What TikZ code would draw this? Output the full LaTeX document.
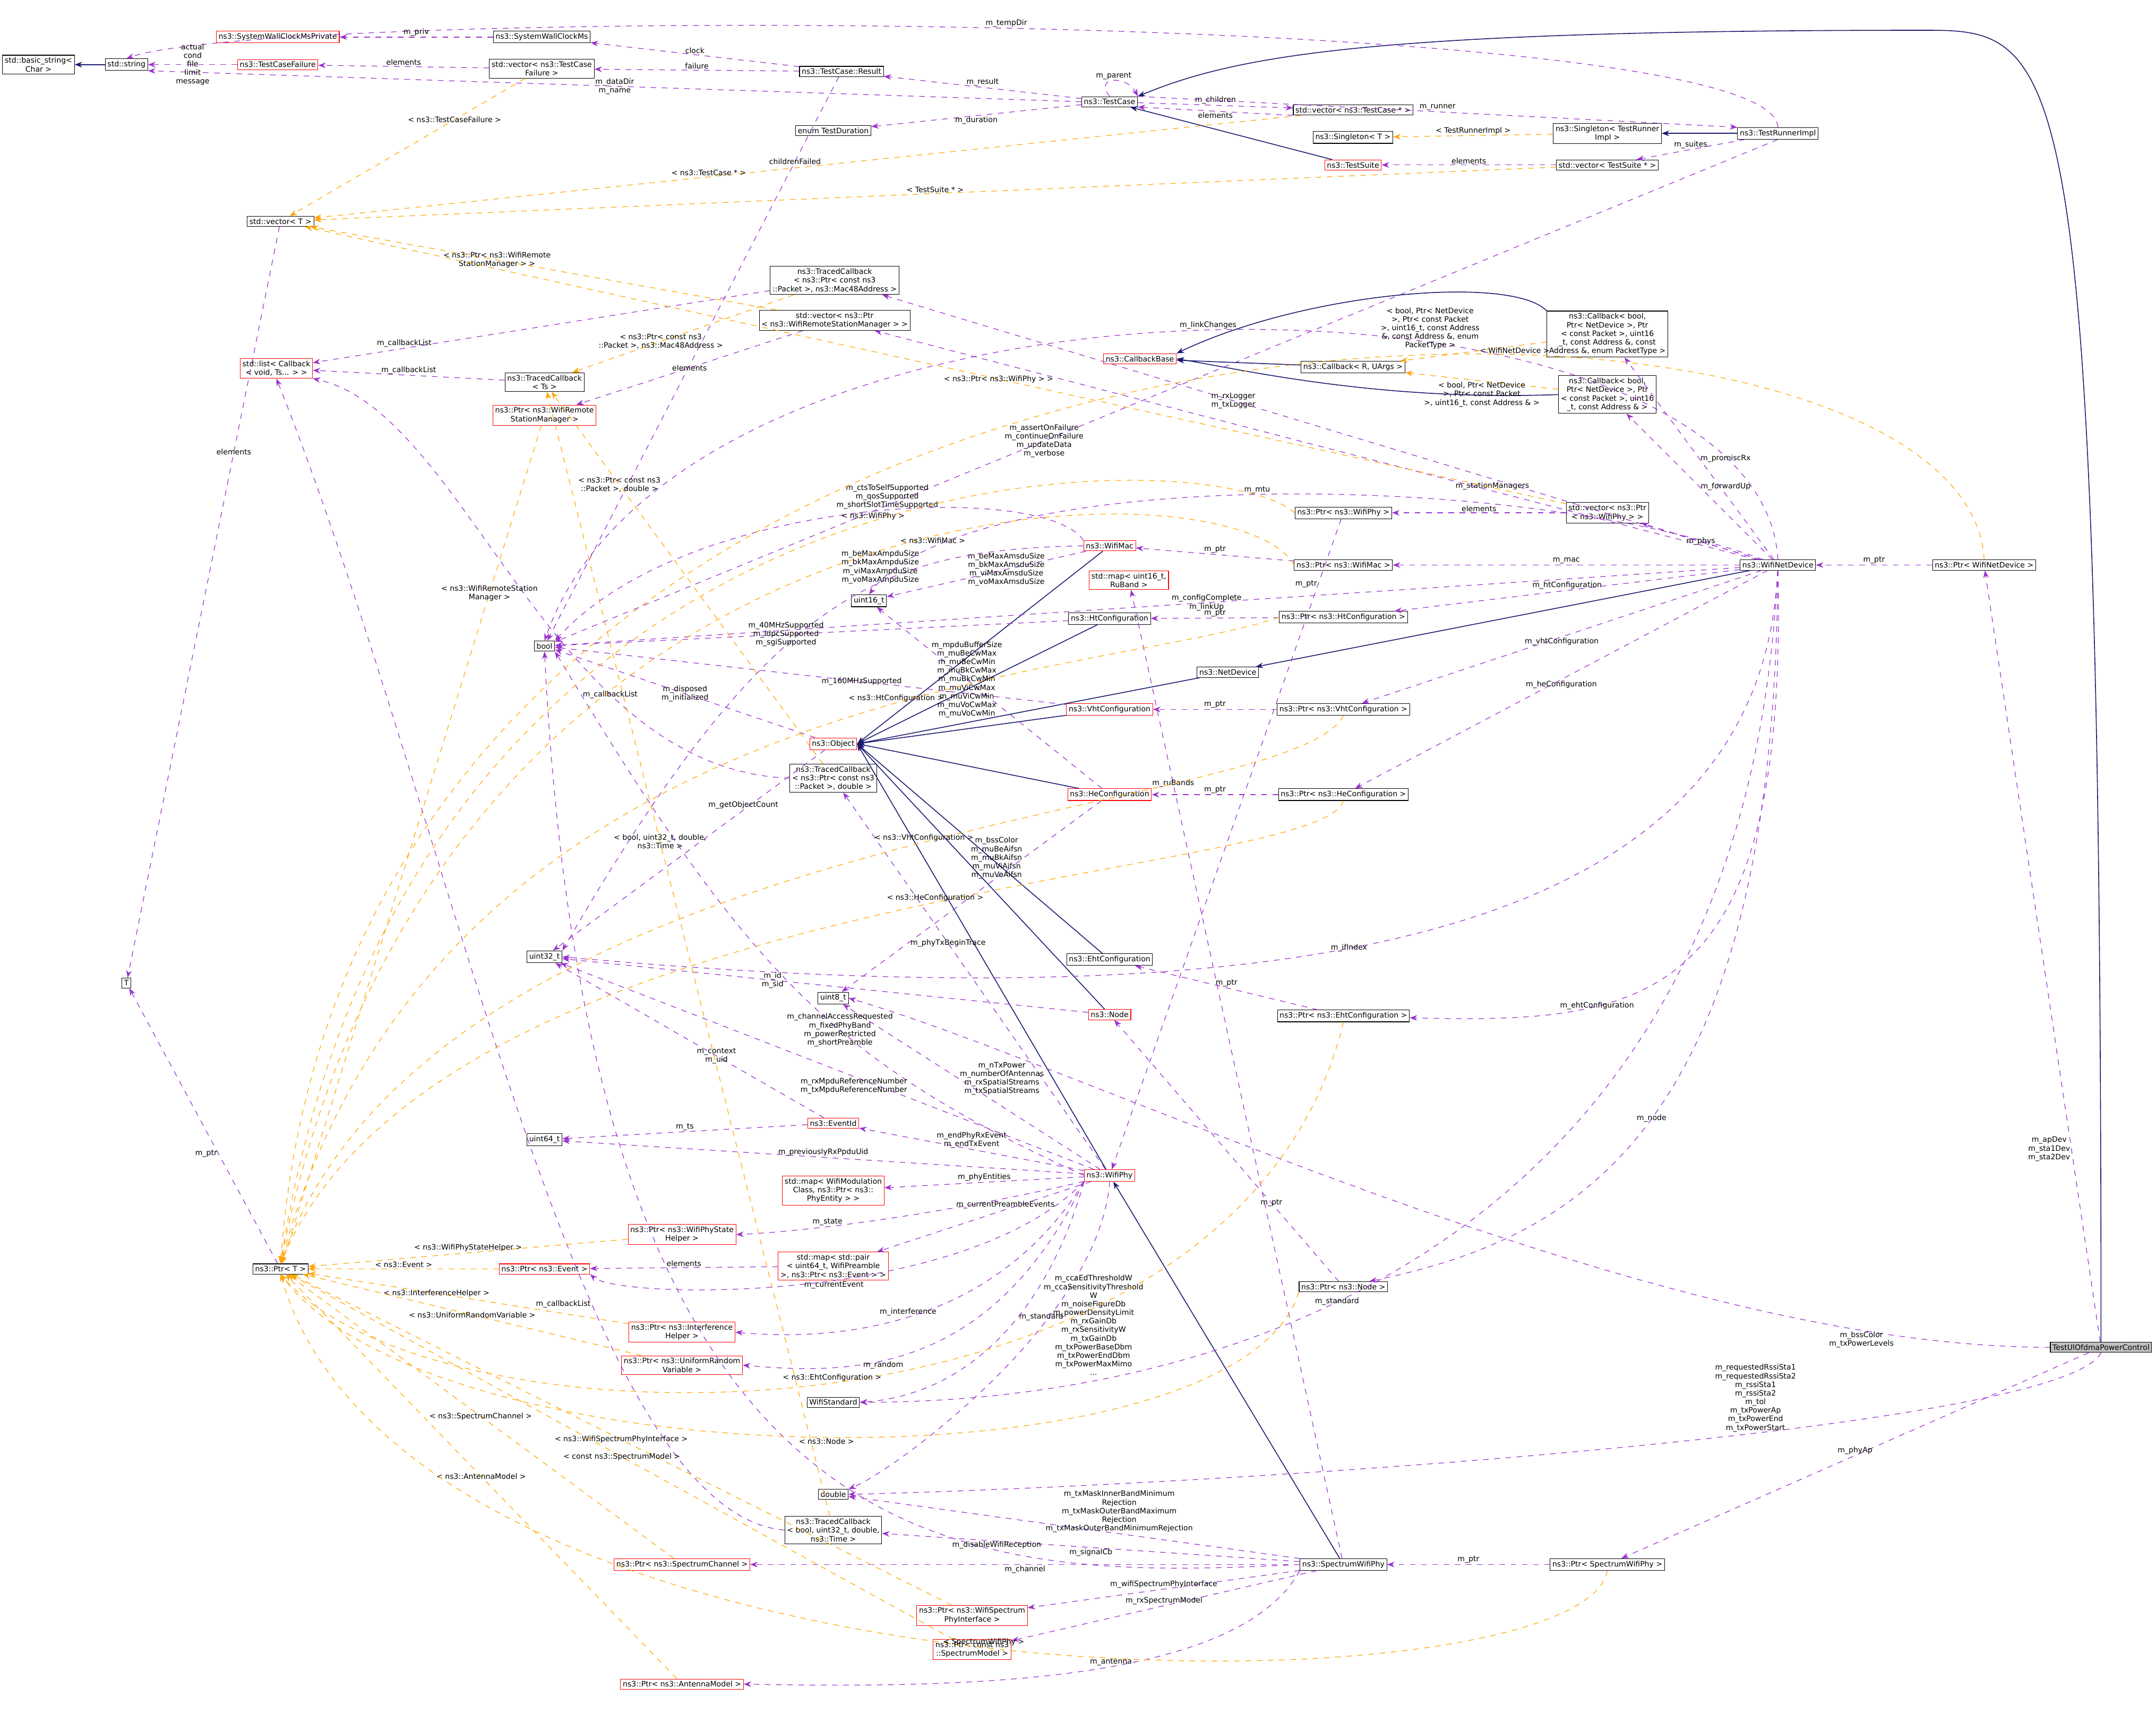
\documentclass[tikz,border=0pt]{standalone}
\usepackage{fontspec}
\setmainfont{DejaVu Sans}
\usetikzlibrary{arrows.meta}
\definecolor{inhblue}{HTML}{191970}
\definecolor{mempurple}{HTML}{9A32CD}
\definecolor{tmplorange}{HTML}{FFA500}
\tikzset{
  cls/.style={draw=black, fill=white, line width=0.3pt, inner sep=1.2pt, align=center,
    font=\fontsize{4}{4.6}\selectfont},
  redcls/.style={cls, draw=red},
  inh/.style={draw=inhblue, line width=0.45pt, -{Stealth[length=4pt,width=3pt]}},
  mem/.style={draw=mempurple, dashed, line width=0.35pt, -{Stealth[length=4pt,width=3pt]}},
  tmpl/.style={draw=tmplorange, dashed, line width=0.35pt, -{Stealth[length=4pt,width=3pt]}},
  lbl/.style={font=\fontsize{4}{4.6}\selectfont, align=center, inner sep=0.5pt, fill=none}
}
\begin{document}
\begin{tikzpicture}[x=0.0259cm, y=-0.0259cm]
\useasboundingbox (0,0) rectangle (1568,1259);
% classes
\node[cls] (basicstr) at (28,47) {std::basic\_string\textless\\ Char \textgreater};
\node[cls] (str) at (92,47) {std::string};
\node[redcls] (swcPriv) at (202,27) {ns3::SystemWallClockMsPrivate};
\node[redcls] (tcFailure) at (202,47) {ns3::TestCaseFailure};
\node[cls] (swc) at (394,27) {ns3::SystemWallClockMs};
\node[cls] (vecFail) at (394,50) {std::vector\textless{} ns3::TestCase\\ Failure \textgreater};
\node[cls] (tcResult) at (612,52) {ns3::TestCase::Result};
\node[cls] (testDur) at (606,95) {enum TestDuration};
\node[cls] (testCase) at (807,74) {ns3::TestCase};
\node[cls] (vecTC) at (984,80) {std::vector\textless{} ns3::TestCase * \textgreater};
\node[cls] (singT) at (984,100) {ns3::Singleton\textless{} T \textgreater};
\node[cls] (singTRI) at (1169,97) {ns3::Singleton\textless{} TestRunner\\ Impl \textgreater};
\node[cls] (runner) at (1293,97) {ns3::TestRunnerImpl};
\node[redcls] (suite) at (984,120) {ns3::TestSuite};
\node[cls] (vecSuite) at (1169,120) {std::vector\textless{} TestSuite * \textgreater};
\node[cls] (vecT) at (204,161) {std::vector\textless{} T \textgreater};
\node[cls] (tcbMac) at (607,204) {ns3::TracedCallback\\ \textless{} ns3::Ptr\textless{} const ns3\\ ::Packet \textgreater, ns3::Mac48Address \textgreater};
\node[cls] (vecWRSM) at (607,233) {std::vector\textless{} ns3::Ptr\\ \textless{} ns3::WifiRemoteStationManager \textgreater{} \textgreater};
\node[redcls] (listCb) at (201,268) {std::list\textless{} Callback\\ \textless{} void, Ts... \textgreater{} \textgreater};
\node[cls] (tcbTs) at (396,278) {ns3::TracedCallback\\ \textless{} Ts \textgreater};
\node[redcls] (ptrWRSM) at (396,302) {ns3::Ptr\textless{} ns3::WifiRemote\\ StationManager \textgreater};
\node[redcls] (cbBase) at (829,261) {ns3::CallbackBase};
\node[cls] (cbRU) at (984,267) {ns3::Callback\textless{} R, UArgs \textgreater};
\node[cls] (cbPromisc) at (1169,243) {ns3::Callback\textless{} bool,\\ Ptr\textless{} NetDevice \textgreater, Ptr\\ \textless{} const Packet \textgreater, uint16\\ \_t, const Address \&, const\\ Address \&, enum PacketType \textgreater};
\node[cls] (cbFwd) at (1169,287) {ns3::Callback\textless{} bool,\\ Ptr\textless{} NetDevice \textgreater, Ptr\\ \textless{} const Packet \textgreater, uint16\\ \_t, const Address \& \textgreater};
\node[cls] (bool) at (396,470) {bool};
\node[cls] (u16) at (632,437) {uint16\_t};
\node[redcls] (wifiMac) at (807,397) {ns3::WifiMac};
\node[redcls] (mapRu) at (821,422) {std::map\textless{} uint16\_t,\\ RuBand \textgreater};
\node[cls] (htConf) at (807,450) {ns3::HtConfiguration};
\node[cls] (netDev) at (893,489) {ns3::NetDevice};
\node[redcls] (vhtConf) at (807,516) {ns3::VhtConfiguration};
\node[redcls] (object) at (606,541) {ns3::Object};
\node[cls] (tcbPkt) at (606,566) {ns3::TracedCallback\\ \textless{} ns3::Ptr\textless{} const ns3\\ ::Packet \textgreater, double \textgreater};
\node[redcls] (heConf) at (807,578) {ns3::HeConfiguration};
\node[cls] (ptrPhy) at (977,373) {ns3::Ptr\textless{} ns3::WifiPhy \textgreater};
\node[cls] (vecPtrPhy) at (1169,373) {std::vector\textless{} ns3::Ptr\\ \textless{} ns3::WifiPhy \textgreater{} \textgreater};
\node[cls] (ptrMac) at (977,411) {ns3::Ptr\textless{} ns3::WifiMac \textgreater};
\node[cls] (ptrHt) at (977,449) {ns3::Ptr\textless{} ns3::HtConfiguration \textgreater};
\node[cls] (ptrVht) at (977,516) {ns3::Ptr\textless{} ns3::VhtConfiguration \textgreater};
\node[cls] (ptrHe) at (977,578) {ns3::Ptr\textless{} ns3::HeConfiguration \textgreater};
\node[cls] (wifiDev) at (1293,411) {ns3::WifiNetDevice};
\node[cls] (ptrDev) at (1443,411) {ns3::Ptr\textless{} WifiNetDevice \textgreater};
\node[cls] (u32) at (396,696) {uint32\_t};
\node[cls] (u8) at (606,726) {uint8\_t};
\node[cls] (ehtConf) at (807,698) {ns3::EhtConfiguration};
\node[redcls] (node) at (807,738) {ns3::Node};
\node[cls] (ptrEht) at (977,739) {ns3::Ptr\textless{} ns3::EhtConfiguration \textgreater};
\node[cls] (T) at (92,715) {T};
\node[cls] (u64) at (396,829) {uint64\_t};
\node[redcls] (eventId) at (606,817) {ns3::EventId};
\node[redcls] (wifiPhy) at (807,855) {ns3::WifiPhy};
\node[redcls] (mapMod) at (606,866) {std::map\textless{} WifiModulation\\ Class, ns3::Ptr\textless{} ns3::\\ PhyEntity \textgreater{} \textgreater};
\node[redcls] (ptrState) at (496,898) {ns3::Ptr\textless{} ns3::WifiPhyState\\ Helper \textgreater};
\node[cls] (ptrT) at (204,923) {ns3::Ptr\textless{} T \textgreater};
\node[redcls] (ptrEvent) at (396,923) {ns3::Ptr\textless{} ns3::Event \textgreater};
\node[redcls] (mapPair) at (606,921) {std::map\textless{} std::pair\\ \textless{} uint64\_t, WifiPreamble\\ \textgreater, ns3::Ptr\textless{} ns3::Event \textgreater{} \textgreater};
\node[redcls] (ptrIntf) at (496,969) {ns3::Ptr\textless{} ns3::Interference\\ Helper \textgreater};
\node[redcls] (ptrRand) at (496,993) {ns3::Ptr\textless{} ns3::UniformRandom\\ Variable \textgreater};
\node[cls] (ptrNode) at (977,936) {ns3::Ptr\textless{} ns3::Node \textgreater};
\node[cls, fill=black!25] (test) at (1528,980) {TestUlOfdmaPowerControl};
\node[cls] (wifiStd) at (606,1020) {WifiStandard};
\node[cls] (double) at (606,1087) {double};
\node[cls] (tcbBool) at (606,1113) {ns3::TracedCallback\\ \textless{} bool, uint32\_t, double,\\ ns3::Time \textgreater};
\node[cls] (specPhy) at (977,1138) {ns3::SpectrumWifiPhy};
\node[cls] (ptrSpecPhy) at (1169,1138) {ns3::Ptr\textless{} SpectrumWifiPhy \textgreater};
\node[redcls] (ptrChan) at (496,1138) {ns3::Ptr\textless{} ns3::SpectrumChannel \textgreater};
\node[redcls] (ptrIface) at (707,1175) {ns3::Ptr\textless{} ns3::WifiSpectrum\\ PhyInterface \textgreater};
\node[redcls] (ptrModel) at (707,1200) {ns3::Ptr\textless{} const ns3\\ ::SpectrumModel \textgreater};
\node[redcls] (ptrAnt) at (496,1225) {ns3::Ptr\textless{} ns3::AntennaModel \textgreater};
% inheritance
\draw[inh] (str) -- (basicstr);
\draw[inh] (suite) -- (testCase);
\draw[inh] (runner) -- (singTRI);
\draw[inh] (cbPromisc.north west) .. controls (1100,200) and (950,212) .. (cbBase.north east);
\draw[inh] (cbRU) -- (cbBase);
\draw[inh] (cbFwd.west) .. controls (1000,292) and (900,268) .. (cbBase.east);
\draw[inh] (wifiDev) -- (netDev);
\draw[inh] (specPhy) -- (wifiPhy);
\foreach \sub in {wifiMac,htConf,netDev,vhtConf,heConf,ehtConf,node,wifiPhy}
  \draw[inh] (\sub) -- (object.east);
\draw[inh] (test.north) .. controls (1528,30) and (1500,22) .. (1400,22) .. controls (1000,22) and (900,40) .. (testCase.north east);
% members
\draw[mem] (runner.north) .. controls (1290,5) and (200,5) .. node[lbl, pos=0.5, above] {m\_tempDir} (str.north);
\draw[mem] (testCase.west) -- node[lbl] {m\_dataDir\\ m\_name} (str.south east);
\draw[mem] (tcFailure) -- node[lbl] {actual\\ cond\\ file\\ limit\\ message} (str);
\draw[mem] (swc) -- node[lbl, above] {m\_priv} (swcPriv);
\draw[mem] (vecFail) -- node[lbl, above] {elements} (tcFailure);
\draw[mem] (tcResult) -- node[lbl, above] {clock} (swc);
\draw[mem] (tcResult) -- node[lbl, above] {failure} (vecFail);
\draw[mem] (tcResult) -- node[lbl, pos=0.15] {childrenFailed} (bool);
\draw[mem] (testCase) -- node[lbl, above] {m\_result} (tcResult);
\draw[mem] (testCase) -- node[lbl, below] {m\_duration} (testDur);
\draw[mem] (testCase.north) .. controls (795,55) and (820,55) .. node[lbl, above] {m\_parent} (testCase.north east);
\draw[mem] (testCase) -- node[lbl, above] {m\_children} (vecTC);
\draw[mem] (vecTC.south west) -- node[lbl, below] {elements} (testCase.south east);
\draw[mem] (testCase.north east) -- node[lbl, above] {m\_runner} (runner.north west);
\draw[mem] (runner) -- node[lbl, above] {m\_suites} (vecSuite);
\draw[mem] (vecSuite) -- node[lbl, above] {elements} (suite);
\draw[mem] (vecT) -- node[lbl, pos=0.3] {elements} (T);
\draw[mem] (tcbTs) -- node[lbl, above] {m\_callbackList} (listCb);
\draw[mem] (tcbMac) -- node[lbl, pos=0.8, above] {m\_callbackList} (listCb);
\draw[mem] (tcbPkt.west) .. controls (400,560) and (340,300) .. node[lbl, pos=0.3] {m\_callbackList} (listCb.south east);
\draw[mem] (tcbBool.west) .. controls (420,1100) and (330,600) .. node[lbl, pos=0.35, left] {m\_callbackList} (listCb.south);
\draw[mem] (vecWRSM) -- node[lbl] {elements} (ptrWRSM);
\draw[mem] (wifiDev) -- node[lbl, pos=0.3, above] {m\_stationManagers} (vecWRSM);
\draw[mem] (wifiDev) -- node[lbl, pos=0.6] {m\_rxLogger\\ m\_txLogger} (tcbMac);
\draw[mem] (wifiDev) -- node[lbl, right] {m\_promiscRx} (cbPromisc);
\draw[mem] (wifiDev) -- node[lbl, right] {m\_forwardUp} (cbFwd);
\draw[mem] (wifiDev.north) .. controls (1280,180) and (500,170) .. node[lbl, pos=0.5, above] {m\_linkChanges} (bool.north);
\draw[mem] (runner.south) -- node[lbl, pos=0.6] {m\_assertOnFailure\\ m\_continueOnFailure\\ m\_updateData\\ m\_verbose} (bool);
\draw[mem] (wifiDev) .. controls (1100,340) and (700,340) .. node[lbl, pos=0.5, above] {m\_mtu} (u16.north);
\draw[mem] (wifiDev) -- node[lbl, pos=0.45] {m\_configComplete\\ m\_linkUp} (bool);
\draw[mem] (wifiMac.north west) .. controls (760,350) and (500,360) .. node[lbl, pos=0.45, above] {m\_ctsToSelfSupported\\ m\_qosSupported\\ m\_shortSlotTimeSupported} (bool.north east);
\draw[mem] (wifiMac) -- node[lbl, pos=0.4] {m\_beMaxAmsduSize\\ m\_bkMaxAmsduSize\\ m\_viMaxAmsduSize\\ m\_voMaxAmsduSize} (u16);
\draw[mem] (wifiMac.west) .. controls (640,400) and (560,430) .. node[lbl, pos=0.3, left] {m\_beMaxAmpduSize\\ m\_bkMaxAmpduSize\\ m\_viMaxAmpduSize\\ m\_voMaxAmpduSize} (u32.north east);
\draw[mem] (htConf) -- node[lbl, pos=0.55] {m\_40MHzSupported\\ m\_ldpcSupported\\ m\_sgiSupported} (bool);
\draw[mem] (vhtConf) -- node[lbl, pos=0.4] {m\_160MHzSupported} (bool);
\draw[mem] (heConf) -- node[lbl, pos=0.6] {m\_mpduBufferSize\\ m\_muBeCwMax\\ m\_muBeCwMin\\ m\_muBkCwMax\\ m\_muBkCwMin\\ m\_muViCwMax\\ m\_muViCwMin\\ m\_muVoCwMax\\ m\_muVoCwMin} (u16);
\draw[mem] (heConf) -- node[lbl, pos=0.3, left] {m\_bssColor\\ m\_muBeAifsn\\ m\_muBkAifsn\\ m\_muViAifsn\\ m\_muVoAifsn} (u8);
\draw[mem] (object) -- node[lbl, pos=0.5] {m\_disposed\\ m\_initialized} (bool);
\draw[mem] (object) -- node[lbl, pos=0.3, above] {m\_getObjectCount} (u32);
\draw[mem] (vecPtrPhy) -- node[lbl, above] {elements} (ptrPhy);
\draw[mem] (ptrPhy) -- node[lbl, pos=0.1, left] {m\_ptr} (wifiPhy);
\draw[mem] (ptrMac) -- node[lbl, above] {m\_ptr} (wifiMac);
\draw[mem] (ptrHt) -- node[lbl, above] {m\_ptr} (htConf);
\draw[mem] (ptrVht) -- node[lbl, above] {m\_ptr} (vhtConf);
\draw[mem] (ptrHe) -- node[lbl, above] {m\_ptr} (heConf);
\draw[mem] (ptrEht) -- node[lbl, above] {m\_ptr} (ehtConf);
\draw[mem] (ptrNode) -- node[lbl, pos=0.3] {m\_ptr} (node);
\draw[mem] (wifiDev) -- node[lbl] {m\_phys} (vecPtrPhy);
\draw[mem] (wifiDev) -- node[lbl, above] {m\_mac} (ptrMac);
\draw[mem] (wifiDev) -- node[lbl, above] {m\_htConfiguration} (ptrHt);
\draw[mem] (wifiDev) -- node[lbl, below] {m\_vhtConfiguration} (ptrVht);
\draw[mem] (wifiDev) -- node[lbl, below] {m\_heConfiguration} (ptrHe);
\draw[mem] (wifiDev) .. controls (1300,730) and (1200,745) .. node[lbl, pos=0.7] {m\_ehtConfiguration} (ptrEht);
\draw[mem] (wifiDev) .. controls (1290,820) and (1150,900) .. node[lbl, pos=0.5] {m\_node} (ptrNode);
\draw[mem] (wifiDev) .. controls (1280,700) and (900,740) .. node[lbl, pos=0.55] {m\_ifIndex} (u32.east);
\draw[mem] (wifiDev) .. controls (1270,900) and (900,1020) .. node[lbl, pos=0.6] {m\_standard} (wifiStd.east);
\draw[mem] (ptrDev) -- node[lbl, above] {m\_ptr} (wifiDev);
\draw[mem] (node) -- node[lbl, pos=0.6] {m\_id\\ m\_sid} (u32);
\draw[mem] (specPhy) -- node[lbl, pos=0.8] {m\_ruBands} (mapRu);
\draw[mem] (wifiPhy) -- node[lbl, pos=0.6] {m\_phyTxBeginTrace} (tcbPkt);
\draw[mem] (wifiPhy) -- node[lbl, pos=0.55, right] {m\_nTxPower\\ m\_numberOfAntennas\\ m\_rxSpatialStreams\\ m\_txSpatialStreams} (u8);
\draw[mem] (wifiPhy.west) .. controls (600,770) and (540,700) .. node[lbl, pos=0.4] {m\_channelAccessRequested\\ m\_fixedPhyBand\\ m\_powerRestricted\\ m\_shortPreamble} (bool.south east);
\draw[mem] (wifiPhy) -- node[lbl, pos=0.45, below] {m\_rxMpduReferenceNumber\\ m\_txMpduReferenceNumber} (u32);
\draw[mem] (eventId) -- node[lbl, pos=0.4] {m\_context\\ m\_uid} (u32);
\draw[mem] (eventId) -- node[lbl, above] {m\_ts} (u64);
\draw[mem] (wifiPhy) -- node[lbl, above] {m\_endPhyRxEvent\\ m\_endTxEvent} (eventId);
\draw[mem] (wifiPhy) -- node[lbl, above] {m\_previouslyRxPpduUid} (u64);
\draw[mem] (wifiPhy) -- node[lbl, above] {m\_phyEntities} (mapMod);
\draw[mem] (wifiPhy) .. controls (700,880) and (600,895) .. node[lbl, pos=0.7, above] {m\_state} (ptrState.east);
\draw[mem] (wifiPhy) -- node[lbl, pos=0.4, above] {m\_currentPreambleEvents} (mapPair);
\draw[mem] (mapPair) -- node[lbl, above] {elements} (ptrEvent);
\draw[mem] (wifiPhy.south west) .. controls (700,950) and (450,945) .. node[lbl, pos=0.45, below] {m\_currentEvent} (ptrEvent.south east);
\draw[mem] (wifiPhy.south west) .. controls (720,970) and (600,975) .. node[lbl, pos=0.5, above] {m\_interference} (ptrIntf.east);
\draw[mem] (wifiPhy.south west) .. controls (720,1000) and (620,1000) .. node[lbl, pos=0.6, below] {m\_random} (ptrRand.east);
\draw[mem] (wifiPhy.south west) .. controls (760,960) and (700,1015) .. node[lbl, pos=0.4, right] {m\_standard} (wifiStd.east);
\draw[mem] (wifiPhy.south) .. controls (800,960) and (650,1070) .. node[lbl, pos=0.35, right] {m\_ccaEdThresholdW\\ m\_ccaSensitivityThreshold\\ W\\ m\_noiseFigureDb\\ m\_powerDensityLimit\\ m\_rxGainDb\\ m\_rxSensitivityW\\ m\_txGainDb\\ m\_txPowerBaseDbm\\ m\_txPowerEndDbm\\ m\_txPowerMaxMimo\\ ...} (double.north east);
\draw[mem] (ptrT) -- node[lbl, pos=0.4, left] {m\_ptr} (T);
\draw[mem] (specPhy) -- node[lbl, pos=0.4, above] {m\_txMaskInnerBandMinimum\\ Rejection\\ m\_txMaskOuterBandMaximum\\ Rejection\\ m\_txMaskOuterBandMinimumRejection} (double);
\draw[mem] (specPhy) -- node[lbl, pos=0.5, below] {m\_signalCb} (tcbBool);
\draw[mem] (specPhy.west) .. controls (700,1150) and (430,1150) .. node[lbl, pos=0.3, above] {m\_disableWifiReception} (bool.south);
\draw[mem] (specPhy) -- node[lbl, pos=0.5, below] {m\_channel} (ptrChan);
\draw[mem] (specPhy) -- node[lbl, above] {m\_wifiSpectrumPhyInterface} (ptrIface);
\draw[mem] (specPhy) -- node[lbl, above] {m\_rxSpectrumModel} (ptrModel);
\draw[mem] (specPhy.south west) .. controls (900,1225) and (700,1228) .. node[lbl, pos=0.45, above] {m\_antenna} (ptrAnt.east);
\draw[mem] (ptrSpecPhy) -- node[lbl, above] {m\_ptr} (specPhy);
\draw[mem] (test) -- node[lbl, above] {m\_phyAp} (ptrSpecPhy);
\draw[mem] (test) -- node[lbl, pos=0.25, left] {m\_apDev\\ m\_sta1Dev\\ m\_sta2Dev} (ptrDev);
\draw[mem] (test.west) .. controls (1200,980) and (800,780) .. node[lbl, pos=0.15, below] {m\_bssColor\\ m\_txPowerLevels} (u8.east);
\draw[mem] (test.south) .. controls (1500,1040) and (900,1080) .. node[lbl, pos=0.4, above] {m\_requestedRssiSta1\\ m\_requestedRssiSta2\\ m\_rssiSta1\\ m\_rssiSta2\\ m\_tol\\ m\_txPowerAp\\ m\_txPowerEnd\\ m\_txPowerStart} (double.east);
% template instances
\draw[tmpl] (singTRI) -- node[lbl, above] {\textless{} TestRunnerImpl \textgreater} (singT);
\draw[tmpl] (vecTC) -- node[lbl, pos=0.6, above] {\textless{} ns3::TestCase * \textgreater} (vecT);
\draw[tmpl] (vecSuite) -- node[lbl, pos=0.5, above] {\textless{} TestSuite * \textgreater} (vecT);
\draw[tmpl] (vecFail) -- node[lbl, pos=0.3] {\textless{} ns3::TestCaseFailure \textgreater} (vecT);
\draw[tmpl] (vecWRSM) -- node[lbl, pos=0.6] {\textless{} ns3::Ptr\textless{} ns3::WifiRemote\\ StationManager \textgreater{} \textgreater} (vecT);
\draw[tmpl] (vecPtrPhy) -- node[lbl, pos=0.45] {\textless{} ns3::Ptr\textless{} ns3::WifiPhy \textgreater{} \textgreater} (vecT);
\draw[tmpl] (tcbMac) -- node[lbl, pos=0.6] {\textless{} ns3::Ptr\textless{} const ns3\\ ::Packet \textgreater, ns3::Mac48Address \textgreater} (tcbTs);
\draw[tmpl] (tcbPkt) -- node[lbl, pos=0.75] {\textless{} ns3::Ptr\textless{} const ns3\\ ::Packet \textgreater, double \textgreater} (tcbTs);
\draw[tmpl] (tcbBool) -- node[lbl, pos=0.6] {\textless{} bool, uint32\_t, double,\\ ns3::Time \textgreater} (tcbTs);
\draw[tmpl] (cbPromisc) -- node[lbl, pos=0.45, above left] {\textless{} bool, Ptr\textless{} NetDevice\\ \textgreater, Ptr\textless{} const Packet\\ \textgreater, uint16\_t, const Address\\ \&, const Address \&, enum\\ PacketType \textgreater} (cbRU);
\draw[tmpl] (cbFwd) -- node[lbl, pos=0.5, below] {\textless{} bool, Ptr\textless{} NetDevice\\ \textgreater, Ptr\textless{} const Packet\\ \textgreater, uint16\_t, const Address \& \textgreater} (cbRU);
\draw[tmpl] (ptrDev.north) .. controls (1430,160) and (260,150) .. node[lbl, pos=0.35, above] {\textless{} WifiNetDevice \textgreater} (ptrT.north);
\draw[tmpl] (ptrWRSM) -- node[lbl, pos=0.2] {\textless{} ns3::WifiRemoteStation\\ Manager \textgreater} (ptrT);
\draw[tmpl] (ptrPhy.west) .. controls (880,318) and (300,310) .. node[lbl, pos=0.45, above] {\textless{} ns3::WifiPhy \textgreater} (ptrT.north);
\draw[tmpl] (ptrMac.west) .. controls (900,332) and (320,330) .. node[lbl, pos=0.42, below] {\textless{} ns3::WifiMac \textgreater} (ptrT.north);
\draw[tmpl] (ptrHt.west) .. controls (800,494) and (320,494) .. node[lbl, pos=0.4, above] {\textless{} ns3::HtConfiguration \textgreater} (ptrT.north);
\draw[tmpl] (ptrVht.south) .. controls (940,596) and (320,596) .. node[lbl, pos=0.45, above] {\textless{} ns3::VhtConfiguration \textgreater} (ptrT.north);
\draw[tmpl] (ptrHe.south) .. controls (960,641) and (320,641) .. node[lbl, pos=0.45, above] {\textless{} ns3::HeConfiguration \textgreater} (ptrT.north);
\draw[tmpl] (ptrEht.south) .. controls (900,1065) and (320,1060) .. node[lbl, pos=0.5, above] {\textless{} ns3::EhtConfiguration \textgreater} (ptrT.south);
\draw[tmpl] (ptrNode.south west) .. controls (900,1085) and (320,1080) .. node[lbl, pos=0.5, below] {\textless{} ns3::Node \textgreater} (ptrT.south);
\draw[tmpl] (ptrState) -- node[lbl, above] {\textless{} ns3::WifiPhyStateHelper \textgreater} (ptrT);
\draw[tmpl] (ptrEvent) -- node[lbl, above] {\textless{} ns3::Event \textgreater} (ptrT);
\draw[tmpl] (ptrIntf) -- node[lbl, pos=0.6] {\textless{} ns3::InterferenceHelper \textgreater} (ptrT);
\draw[tmpl] (ptrRand) -- node[lbl, pos=0.5] {\textless{} ns3::UniformRandomVariable \textgreater} (ptrT);
\draw[tmpl] (ptrChan) -- node[lbl, pos=0.5] {\textless{} ns3::SpectrumChannel \textgreater} (ptrT);
\draw[tmpl] (ptrIface) -- node[lbl, pos=0.5] {\textless{} ns3::WifiSpectrumPhyInterface \textgreater} (ptrT);
\draw[tmpl] (ptrModel) -- node[lbl, pos=0.5] {\textless{} const ns3::SpectrumModel \textgreater} (ptrT);
\draw[tmpl] (ptrAnt) -- node[lbl, pos=0.5] {\textless{} ns3::AntennaModel \textgreater} (ptrT);
\draw[tmpl] (ptrSpecPhy.south) .. controls (1150,1250) and (300,1255) .. node[lbl, pos=0.5, above] {\textless{} SpectrumWifiPhy \textgreater} (ptrT.south);
\end{tikzpicture}
\end{document}
